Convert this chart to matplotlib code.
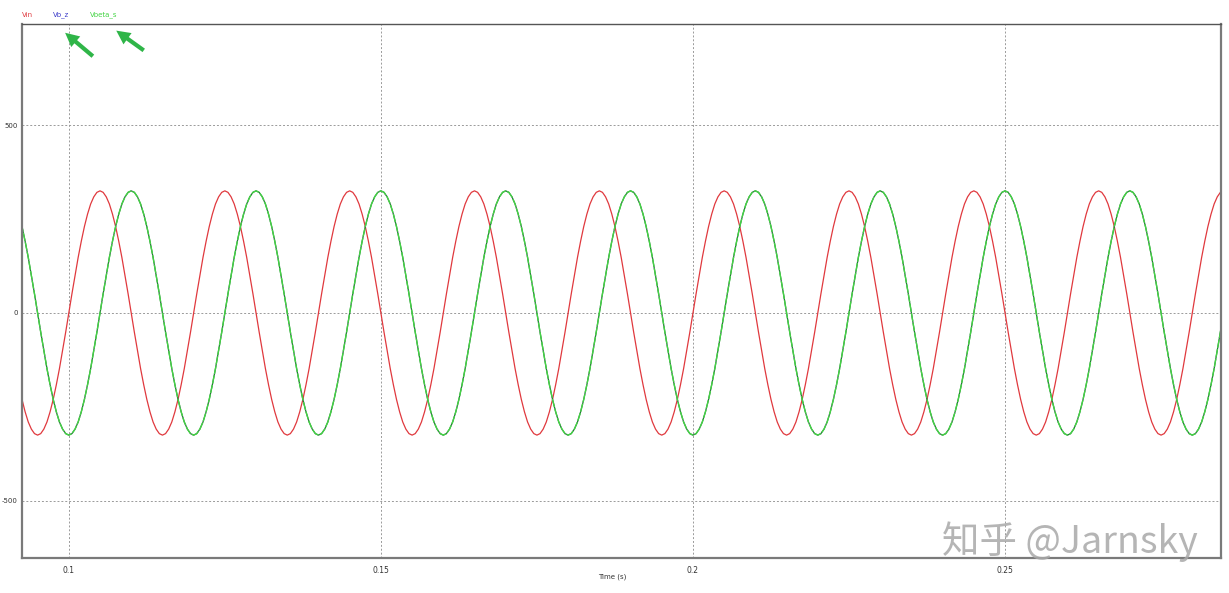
import numpy as np
import matplotlib
matplotlib.use("Agg")
import matplotlib.pyplot as plt

cycle_start = 0.08
sample_step = 0.0005
n_cycles = 11

vin_cycle = [0, 51, 100, 148, 191, 230, 263, 290, 309, 321,
             325, 321, 309, 290, 263, 230, 191, 148, 100, 51,
             0, -51, -100, -148, -191, -230, -263, -290, -309, -321,
             -325, -321, -309, -290, -263, -230, -191, -148, -100, -51]

vbeta_cycle = [-325, -321, -309, -290, -263, -230, -191, -148, -100, -51,
               0, 51, 100, 148, 191, 230, 263, 290, 309, 321,
               325, 321, 309, 290, 263, 230, 191, 148, 100, 51,
               0, -51, -100, -148, -191, -230, -263, -290, -309, -321]

vbz_cycle = list(vbeta_cycle)

x_ticks = [0.1, 0.15, 0.2, 0.25]
x_tick_labels = ["0.1", "0.15", "0.2", "0.25"]
y_ticks = [-500, 0, 500]
y_tick_labels = ["-500", "0", "500"]

# build the traces
vin = np.array(vin_cycle * n_cycles + [vin_cycle[0]], dtype=float)
vbeta = np.array(vbeta_cycle * n_cycles + [vbeta_cycle[0]], dtype=float)
vbz = np.array(vbz_cycle * n_cycles + [vbz_cycle[0]], dtype=float)
t = cycle_start + sample_step * np.arange(len(vin))

RED = "#e0393e"
GREEN = "#44d444"
BLUE = "#3a3ac8"
FRAME = "#7a7a7a"

fig = plt.figure(figsize=(12.29, 5.93), dpi=100)
ax = fig.add_axes([22 / 1229, 1 - 558 / 593, (1221 - 22) / 1229, (558 - 24) / 593])

ax.plot(t, vin, color=RED, lw=0.9)
ax.plot(t, vbz, color="#2a6a40", lw=0.9)
ax.plot(t, vbeta, color=GREEN, lw=1.0, dashes=(6, 1.0))

ax.set_xlim(0.0925, 0.2846)
ax.set_ylim(-652, 769)
ax.set_xticks(x_ticks)
ax.set_xticklabels(x_tick_labels)
ax.set_yticks(y_ticks)
ax.set_yticklabels(y_tick_labels)
ax.tick_params(axis="x", length=0, labelsize=5.5, colors="#333333", pad=6)
ax.tick_params(axis="y", length=0, labelsize=5, colors="#333333", pad=3)
ax.grid(True, color="#9a9a9a", linestyle=(0, (2, 2)), linewidth=0.7)
for side in ax.spines.values():
    side.set_color(FRAME)
    side.set_linewidth(1.6)
ax.spines["top"].set_linewidth(1.0)
ax.spines["top"].set_color("#555555")

fig.text(612 / 1229, 1 - 577 / 593, "Time (s)", fontsize=5, color="#333333", ha="center", va="center")

# trace names above the plot
fig.text(22 / 1229, 1 - 15 / 593, "Vin", fontsize=5, color=RED, va="center")
fig.text(53 / 1229, 1 - 15 / 593, "Vb_z", fontsize=5, color=BLUE, va="center")
fig.text(90 / 1229, 1 - 15 / 593, "Vbeta_s", fontsize=5, color=GREEN, va="center")

# green pointer arrows
for tail, head in [((95, 58), (63, 31)), ((146, 52), (114, 29))]:
    fig.add_artist(matplotlib.patches.FancyArrowPatch(
        (tail[0] / 1229, 1 - tail[1] / 593), (head[0] / 1229, 1 - head[1] / 593),
        transform=fig.transFigure, arrowstyle="simple,head_length=10,head_width=10,tail_width=3",
        color="#2fb548", lw=0))

# watermark
fig.text(1198 / 1229, 1 - 542 / 593, "知乎 @Jarnsky", fontsize=27, color="#a8a8a8", alpha=0.85,
         ha="right", va="center", family=["Noto Sans CJK SC", "DejaVu Sans"])

fig.savefig("out.png", dpi=100)
